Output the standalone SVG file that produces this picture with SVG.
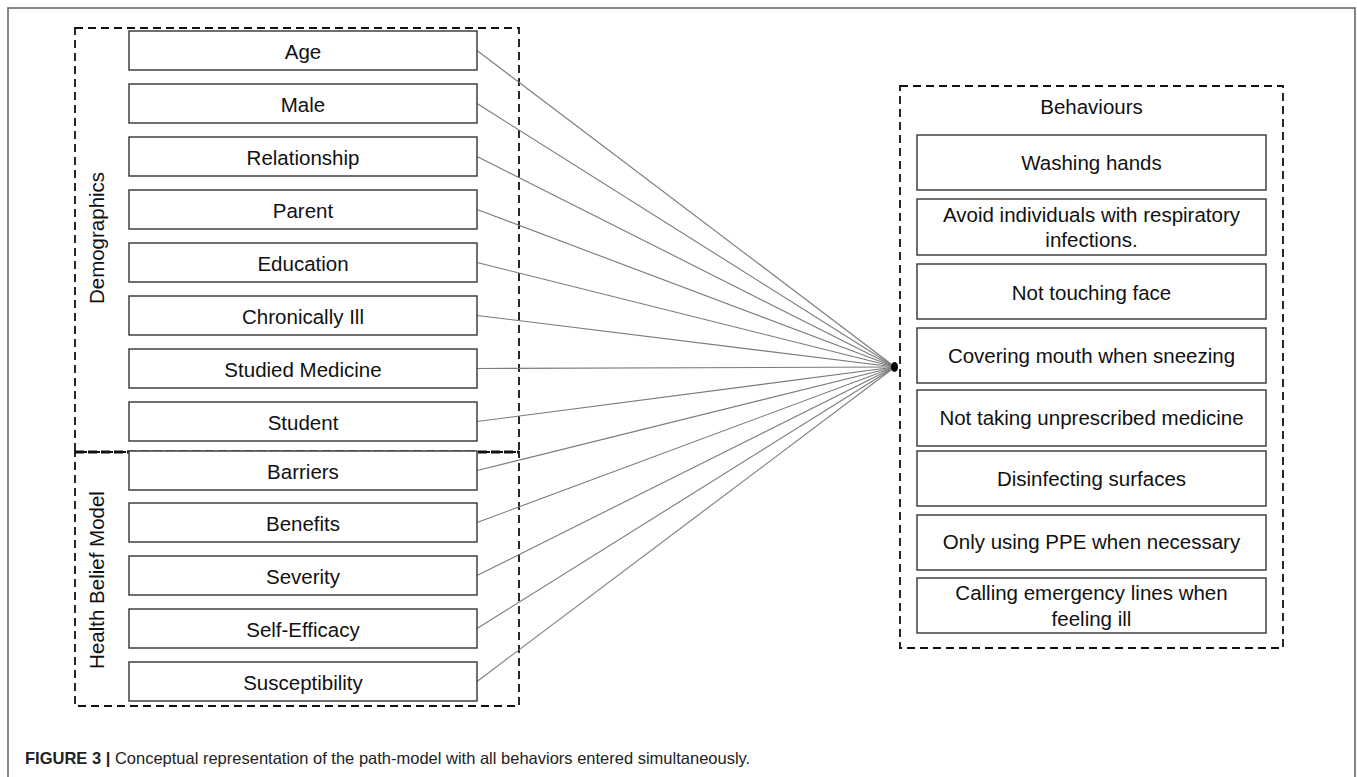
<svg xmlns="http://www.w3.org/2000/svg" width="1357" height="777" viewBox="0 0 1357 777">
<style>
  .box { fill: #fff; stroke: #333; stroke-width: 1.4; }
  .lbl { font-family: "Liberation Sans", Arial, sans-serif; font-size: 20.5px; fill: #111; text-anchor: middle; }
  .dash { fill: none; stroke: #111; stroke-width: 1.8; stroke-dasharray: 8 5; }
  .divider { fill: none; stroke: #111; stroke-width: 3; stroke-dasharray: 9 4; }
  .conn line { stroke: #7a7a7a; stroke-width: 1.1; }
  .cap { font-family: "Liberation Sans", Arial, sans-serif; font-size: 16.5px; fill: #222; }
</style>
<rect x="0" y="0" width="1357" height="777" fill="#fff"/>
<rect x="8" y="8" width="1347" height="800" fill="none" stroke="#666" stroke-width="1.6"/>

<g id="group-demographics">
  <rect class="dash" x="75" y="28" width="444" height="424"/>
  <text class="lbl" transform="translate(104,238) rotate(-90)">Demographics</text>
</g>
<g id="group-hbm">
  <rect class="dash" x="75" y="452" width="444" height="254"/>
  <line class="divider" x1="75" y1="452" x2="519" y2="452"/>
  <text class="lbl" transform="translate(104,580) rotate(-90)">Health Belief Model</text>
</g>
<g id="group-behaviours">
  <rect class="dash" x="900" y="86" width="383" height="562"/>
  <text class="lbl" x="1091.5" y="114">Behaviours</text>
</g>

<g id="connectors" class="conn">
  <line x1="477" y1="50.5" x2="895" y2="367"/>
  <line x1="477" y1="103.5" x2="895" y2="367"/>
  <line x1="477" y1="156.5" x2="895" y2="367"/>
  <line x1="477" y1="209.5" x2="895" y2="367"/>
  <line x1="477" y1="262.5" x2="895" y2="367"/>
  <line x1="477" y1="315.5" x2="895" y2="367"/>
  <line x1="477" y1="368.5" x2="895" y2="367"/>
  <line x1="477" y1="421.5" x2="895" y2="367"/>
  <line x1="477" y1="470.5" x2="895" y2="367"/>
  <line x1="477" y1="522.5" x2="895" y2="367"/>
  <line x1="477" y1="575.5" x2="895" y2="367"/>
  <line x1="477" y1="628.5" x2="895" y2="367"/>
  <line x1="477" y1="681.5" x2="895" y2="367"/>
  <ellipse cx="894.5" cy="367" rx="3.5" ry="5" fill="#000"/>
</g>

<g id="n-age"><rect class="box" x="129" y="31" width="348" height="39"/><text class="lbl" x="303" y="59">Age</text></g>
<g id="n-male"><rect class="box" x="129" y="84" width="348" height="39"/><text class="lbl" x="303" y="112">Male</text></g>
<g id="n-relationship"><rect class="box" x="129" y="137" width="348" height="39"/><text class="lbl" x="303" y="165">Relationship</text></g>
<g id="n-parent"><rect class="box" x="129" y="190" width="348" height="39"/><text class="lbl" x="303" y="218">Parent</text></g>
<g id="n-education"><rect class="box" x="129" y="243" width="348" height="39"/><text class="lbl" x="303" y="271">Education</text></g>
<g id="n-chronically-ill"><rect class="box" x="129" y="296" width="348" height="39"/><text class="lbl" x="303" y="324">Chronically Ill</text></g>
<g id="n-studied-medicine"><rect class="box" x="129" y="349" width="348" height="39"/><text class="lbl" x="303" y="377">Studied Medicine</text></g>
<g id="n-student"><rect class="box" x="129" y="402" width="348" height="39"/><text class="lbl" x="303" y="430">Student</text></g>
<g id="n-barriers"><rect class="box" x="129" y="451" width="348" height="39"/><text class="lbl" x="303" y="479">Barriers</text></g>
<g id="n-benefits"><rect class="box" x="129" y="503" width="348" height="39"/><text class="lbl" x="303" y="531">Benefits</text></g>
<g id="n-severity"><rect class="box" x="129" y="556" width="348" height="39"/><text class="lbl" x="303" y="584">Severity</text></g>
<g id="n-self-efficacy"><rect class="box" x="129" y="609" width="348" height="39"/><text class="lbl" x="303" y="637">Self-Efficacy</text></g>
<g id="n-susceptibility"><rect class="box" x="129" y="662" width="348" height="39"/><text class="lbl" x="303" y="690">Susceptibility</text></g>

<g id="b-washing"><rect class="box" x="917" y="135" width="349" height="55"/><text class="lbl" x="1091.5" y="170">Washing hands</text></g>
<g id="b-avoid"><rect class="box" x="917" y="199" width="349" height="56"/><text class="lbl" x="1091.5" y="222">Avoid individuals with respiratory</text><text class="lbl" x="1091.5" y="247">infections.</text></g>
<g id="b-face"><rect class="box" x="917" y="264" width="349" height="55"/><text class="lbl" x="1091.5" y="300">Not touching face</text></g>
<g id="b-covering"><rect class="box" x="917" y="328" width="349" height="55"/><text class="lbl" x="1091.5" y="363">Covering mouth when sneezing</text></g>
<g id="b-medicine"><rect class="box" x="917" y="390" width="349" height="56"/><text class="lbl" x="1091.5" y="425">Not taking unprescribed medicine</text></g>
<g id="b-disinfecting"><rect class="box" x="917" y="451" width="349" height="55"/><text class="lbl" x="1091.5" y="486">Disinfecting surfaces</text></g>
<g id="b-ppe"><rect class="box" x="917" y="515" width="349" height="55"/><text class="lbl" x="1091.5" y="549">Only using PPE when necessary</text></g>
<g id="b-calling"><rect class="box" x="917" y="578" width="349" height="55"/><text class="lbl" x="1091.5" y="600">Calling emergency lines when</text><text class="lbl" x="1091.5" y="626">feeling ill</text></g>

<text class="cap" x="25" y="764"><tspan font-weight="bold">FIGURE 3 |</tspan> Conceptual representation of the path-model with all behaviors entered simultaneously.</text>
</svg>
